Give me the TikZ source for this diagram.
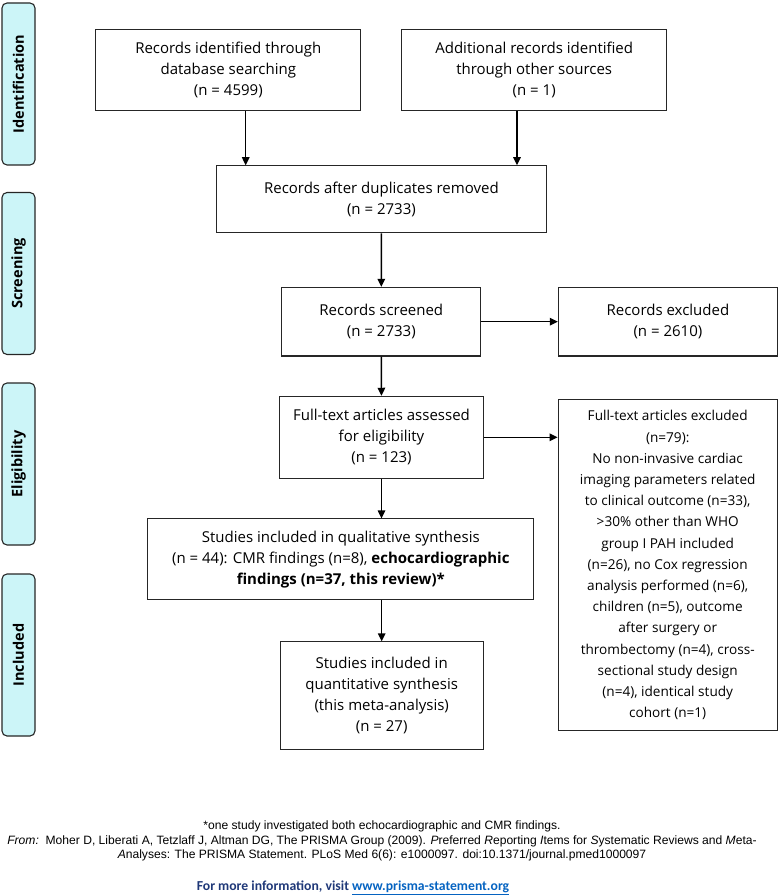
\documentclass[tikz,border=0pt]{standalone}
\usepackage{fontspec}
\setmainfont{Open Sans}
\newfontfamily\arialfont{Liberation Sans}
\newfontfamily\calibrifont{Carlito}
\usetikzlibrary{arrows.meta}
\definecolor{phasefill}{RGB}{204,245,248}
\definecolor{navytext}{RGB}{31,56,120}
\definecolor{linkblue}{RGB}{5,99,193}

\begin{document}
\begin{tikzpicture}[x=1pt, y=-1pt,
    flowbox/.style={draw=black!85, line width=1.1pt, align=center, inner sep=0pt,
        font=\fontsize{15}{21}\selectfont},
    phase/.style={draw=black!85, line width=1.1pt, fill=phasefill, rounded corners=5pt,
        minimum width=162pt, minimum height=33pt, rotate=90, inner sep=0pt,
        font=\fontsize{14.5}{17}\selectfont\bfseries},
    link/.style={line width=1.4pt, -{Triangle[length=8pt,width=7.5pt]}}]

    \useasboundingbox (0,0) rectangle (779,896);

    \node[phase] (pid) at (18.5,84) {Identification};
    \node[phase] (psc) at (18.5,273.5) {Screening};
    \node[phase] (pel) at (18.5,464) {Eligibility};
    \node[phase] (pin) at (18.5,655) {Included};

    \node[flowbox, minimum width=265pt, minimum height=81pt] (db) at (228.3,70) {Records identified through\\database searching\\(n = 4599)};
    \node[flowbox, minimum width=265pt, minimum height=81pt] (other) at (534.2,70) {Additional records identified\\through other sources\\(n = 1)};
    \node[flowbox, minimum width=330pt, minimum height=67pt] (dup) at (381.4,199.3) {Records after duplicates removed\\(n = 2733)};
    \node[flowbox, minimum width=199pt, minimum height=68.5pt] (scr) at (381.3,321.7) {Records screened\\(n = 2733)};
    \node[flowbox, minimum width=219pt, minimum height=68.5pt] (exc) at (667.9,321.7) {Records excluded\\(n = 2610)};
    \node[flowbox, minimum width=204pt, minimum height=82pt] (full) at (381.5,437.3) {Full-text articles assessed\\for eligibility\\(n = 123)};
    \node[flowbox, minimum width=219pt, minimum height=331pt, font=\fontsize{13.6}{21.2}\selectfont] (fexc) at (667.7,565.3) {Full-text articles excluded\\(n=79):\\No non-invasive cardiac\\imaging parameters related\\to clinical outcome (n=33),\\>30\% other than WHO\\group I PAH included\\(n=26), no Cox regression\\analysis performed (n=6),\\children (n=5), outcome\\after surgery or\\thrombectomy (n=4), cross-\\sectional study design\\(n=4), identical study\\cohort (n=1)};
    \node[flowbox, minimum width=386pt, minimum height=81pt] (qual) at (340.8,559.4) {Studies included in qualitative synthesis\\(n = 44): CMR findings (n=8), \textbf{echocardiographic}\\\textbf{findings (n=37, this review)*}};
    \node[flowbox, minimum width=203pt, minimum height=108pt] (quant) at (381.7,695.9) {Studies included in\\quantitative synthesis\\(this meta-analysis)\\(n = 27)};

    \draw[link] ([xshift=17.4pt]db.south) -- ([xshift=17.4pt]db.south |- dup.north);
    \draw[link] ([xshift=-17.2pt]other.south) -- ([xshift=-17.2pt]other.south |- dup.north);
    \draw[link] (dup) -- (scr);
    \draw[link] (scr) -- (exc);
    \draw[link] (scr) -- (full);
    \draw[link] (full.east) -- (full.east -| fexc.west);
    \draw[link] (full.south) -- (full.south |- qual.north);
    \draw[link] (quant.north |- qual.south) -- (quant.north);

    \node[align=center, inner sep=0pt, font=\arialfont\fontsize{12.1}{14.8}\selectfont] (note) at (382,841)
        {*one study investigated both echocardiographic and CMR findings.\\
        \textit{From:}\ \ Moher D, Liberati A, Tetzlaff J, Altman DG, The PRISMA Group (2009). \textit{P}referred \textit{R}eporting \textit{I}tems for \textit{S}ystematic Reviews and \textit{M}eta-\\
        \textit{A}nalyses: The PRISMA Statement. PLoS Med 6(6): e1000097. doi:10.1371/journal.pmed1000097};
    \node[inner sep=0pt, font=\calibrifont\bfseries\fontsize{13.7}{16}\selectfont, text=navytext] (info) at (353,888)
        {For more information, visit \textcolor{linkblue}{\underline{www.prisma-statement.org}}};

\end{tikzpicture}
\end{document}
